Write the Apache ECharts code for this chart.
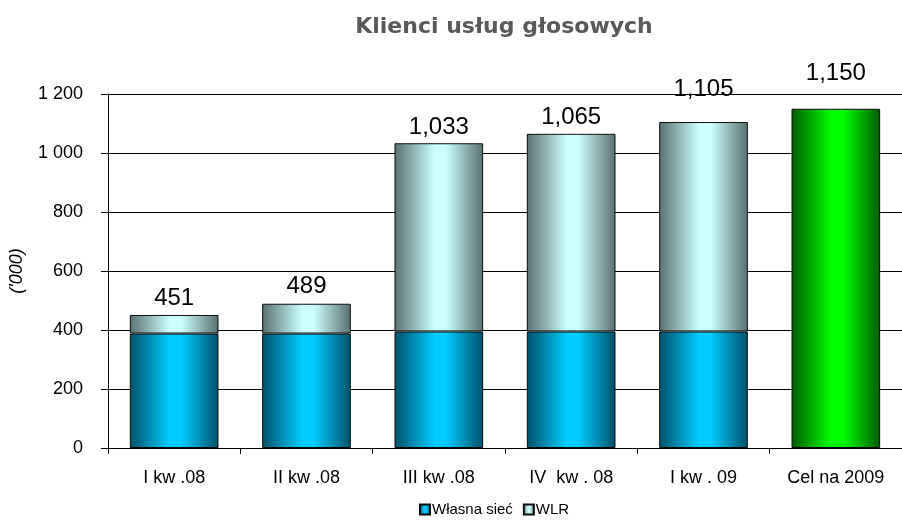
<!DOCTYPE html>
<html>
<head>
<meta charset="utf-8">
<script src="https://cdn.jsdelivr.net/npm/echarts@6/dist/echarts.min.js"></script>
<style>
  html, body { margin: 0; padding: 0; background: #fff; }
  #main { width: 902px; height: 523px; }
</style>
</head>
<body>
<div id="main"></div>
<script>
    // dane
    var categories = ['I kw .08', 'II kw .08', 'III kw .08', 'IV  kw . 08', 'I kw . 09', 'Cel na 2009'];
    var wlasnaSiec = [388, 388, 395, 395, 395, '-'];
    var totals = [451, 489, 1033, 1065, 1105, '-'];
    var cel = ['-', '-', '-', '-', '-', 1150];
    var yTicks = [0, 200, 400, 600, 800, 1000, 1200];

    var wlr = totals.map(function (t, i) {
        return t === '-' ? '-' : t - wlasnaSiec[i];
    });

    // etykiety nad słupkami - odstęp dobrany na oko
    var labelGap = [5, 5, 4, 4, 21, 23];

    function fmtComma(v) {
        return String(v).replace(/\B(?=(\d{3})+(?!\d))/g, ',');
    }

    function grad(edge, mid) {
        return new echarts.graphic.LinearGradient(0, 0, 1, 0, [
            { offset: 0, color: edge },
            { offset: 0.45, color: mid },
            { offset: 0.58, color: mid },
            { offset: 1, color: edge }
        ]);
    }

    var font = 'Liberation Sans, Arial, sans-serif';

    var myChart = echarts.init(document.getElementById('main'));
    var option = {
        animation: false,
        title: {
            text: 'Klienci usług głosowych',
            left: 499,
            textAlign: 'center',
            top: 11,
            textStyle: {
                fontFamily: 'DejaVu Sans, sans-serif',
                fontWeight: 'bold',
                fontSize: 22,
                color: '#595959'
            }
        },
        legend: {
            data: ['Własna sieć', 'WLR'],
            bottom: 1,
            left: 414,
            itemWidth: 10,
            itemHeight: 10,
            itemGap: 10,
            icon: 'rect',
            textStyle: {
                fontFamily: font,
                fontSize: 15,
                color: '#000',
                padding: [0, 0, 0, -3]
            }
        },
        grid: {
            left: 107,
            right: -9,
            top: 94,
            bottom: 75
        },
        xAxis: {
            type: 'category',
            data: categories,
            axisLine: { lineStyle: { color: '#000', width: 1 } },
            axisTick: { show: true, interval: 0, length: 6, inside: false, lineStyle: { color: '#000' } },
            axisLabel: {
                interval: 0,
                hideOverlap: false,
                margin: 21,
                fontFamily: font,
                fontSize: 18,
                color: '#000'
            }
        },
        yAxis: {
            type: 'value',
            min: yTicks[0],
            max: yTicks[yTicks.length - 1],
            interval: 200,
            name: "('000)",
            nameLocation: 'middle',
            nameGap: 82,
            nameRotate: 90,
            nameTextStyle: {
                fontFamily: font,
                fontStyle: 'italic',
                fontSize: 18,
                color: '#000'
            },
            axisLine: { show: true, lineStyle: { color: '#000', width: 1 } },
            axisTick: { show: true, length: 7, lineStyle: { color: '#000' } },
            splitLine: { lineStyle: { color: '#000', width: 1 } },
            axisLabel: {
                margin: 25,
                fontFamily: font,
                fontSize: 18,
                color: '#000',
                formatter: function (v) {
                    return String(v).replace(/\B(?=(\d{3})+(?!\d))/g, ' ');
                }
            }
        },
        series: [
            {
                name: 'Własna sieć',
                type: 'bar',
                stack: 'a',
                barWidth: '67%',
                data: wlasnaSiec,
                itemStyle: {
                    color: grad('#00506a', '#00ccff'),
                    borderColor: '#0d0d0d',
                    borderWidth: 1
                }
            },
            {
                name: 'WLR',
                type: 'bar',
                stack: 'a',
                barWidth: '67%',
                data: wlr.map(function (v, i) {
                    return {
                        value: v,
                        label: { distance: labelGap[i] }
                    };
                }),
                itemStyle: {
                    color: grad('#587070', '#ccffff'),
                    borderColor: '#0d0d0d',
                    borderWidth: 1
                },
                label: {
                    show: true,
                    position: 'top',
                    fontFamily: font,
                    fontSize: 24,
                    color: '#000',
                    formatter: function (p) {
                        return fmtComma(totals[p.dataIndex]);
                    }
                }
            },
            {
                name: 'Cel',
                type: 'bar',
                stack: 'a',
                barWidth: '67%',
                data: cel,
                itemStyle: {
                    color: grad('#005a00', '#00ff00'),
                    borderColor: '#0d0d0d',
                    borderWidth: 1
                },
                label: {
                    show: true,
                    position: 'top',
                    distance: labelGap[5],
                    fontFamily: font,
                    fontSize: 24,
                    color: '#000',
                    formatter: function (p) {
                        return fmtComma(p.value);
                    }
                }
            }
        ]
    };
    option && myChart.setOption(option);
</script>
</body>
</html>
